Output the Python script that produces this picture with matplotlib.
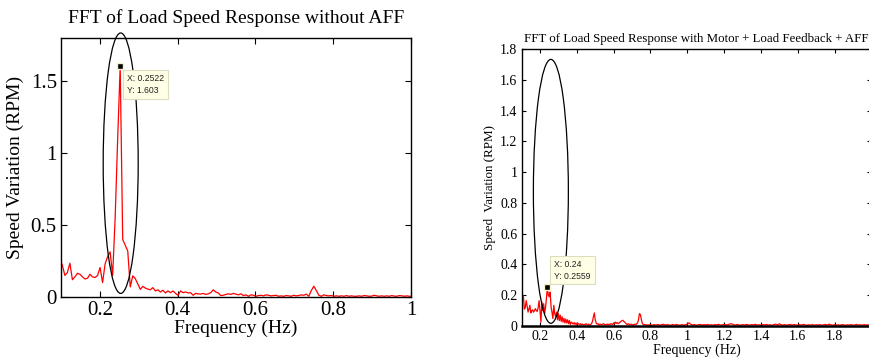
import numpy as np
import matplotlib
matplotlib.use("Agg")
import matplotlib.pyplot as plt
from matplotlib.patches import Ellipse
from matplotlib.ticker import FuncFormatter

# ---------------- data ----------------
# Left: FFT without AFF (bin spacing ~0.006467 Hz)
left_df = 0.2522 / 39
left_k0 = 15
left_vals = [
    0.27, 0.22, 0.15, 0.17, 0.235, 0.12, 0.14, 0.165, 0.158, 0.14,
    0.125, 0.13, 0.158, 0.14, 0.135, 0.15, 0.205, 0.10, 0.23, 0.28,
    0.314, 0.15, 0.55, 1.10, 1.603, 0.40, 0.36, 0.32, 0.07, 0.147,
    0.128, 0.09, 0.053, 0.074, 0.062, 0.055, 0.05, 0.065, 0.042, 0.05,
    0.035, 0.047, 0.028, 0.042, 0.03, 0.042, 0.025, 0.012, 0.042, 0.03,
    0.035, 0.028, 0.03, 0.012, 0.025, 0.022, 0.02, 0.025, 0.018, 0.022,
    0.03, 0.05, 0.035, 0.028, 0.01, 0.012, 0.018, 0.022, 0.018, 0.025,
    0.02, 0.015, 0.022, 0.01, 0.015, 0.005, 0.015, 0.012, 0.005, 0.01,
    0.012, 0.008, 0.015, 0.012, 0.008, 0.01, 0.012, 0.005, 0.008, 0.005,
    0.01, 0.008, 0.005, 0.012, 0.008, 0.01, 0.015, 0.012, 0.02, 0.005,
    0.045, 0.075, 0.045, 0.012, 0.005, 0.015, 0.01, 0.008, 0.01, 0.005,
    0.008, 0.005, 0.008, 0.005, 0.01, 0.005, 0.008, 0.005, 0.005, 0.008,
    0.005, 0.01, 0.008, 0.005, 0.006, 0.012, 0.008, 0.005, 0.008, 0.005,
    0.008, 0.005, 0.01, 0.006, 0.005, 0.01, 0.008, 0.005, 0.008, 0.005,
    0.006,
]
left_tip = (0.2522, 1.603)

# Right: FFT with Motor + Load Feedback + AFF
right_a_start, right_a_df = 0.1, 0.005
right_a_vals = [
    0.20, 0.20, 0.19, 0.11, 0.12, 0.165, 0.13, 0.09, 0.11, 0.135,
    0.085, 0.10, 0.105, 0.09, 0.10, 0.113, 0.10, 0.095, 0.12, 0.165,
    0.10, 0.026, 0.155, 0.10, 0.145, 0.08, 0.12, 0.18, 0.2559, 0.20,
    0.19, 0.22, 0.125, 0.09, 0.048, 0.135, 0.08, 0.06, 0.09, 0.04,
    0.08, 0.035, 0.07, 0.03, 0.06, 0.025, 0.05, 0.02, 0.045, 0.02,
    0.04, 0.015, 0.035, 0.01, 0.025, 0.02, 0.012, 0.022, 0.01, 0.02,
    0.008, 0.018, 0.012, 0.01, 0.015, 0.008, 0.012, 0.006, 0.01, 0.008,
    0.015, 0.01, 0.008, 0.012, 0.006, 0.01, 0.015, 0.03, 0.06, 0.085,
    0.04, 0.02, 0.012, 0.015, 0.008, 0.012, 0.01, 0.008, 0.012, 0.015,
    0.01, 0.008, 0.01, 0.012, 0.008, 0.012, 0.01, 0.015, 0.012, 0.01,
    0.02, 0.015, 0.025, 0.018, 0.022, 0.015, 0.02, 0.025, 0.03, 0.035,
    0.037, 0.03, 0.025, 0.018, 0.012, 0.01, 0.015, 0.01, 0.008, 0.012,
    0.01, 0.006, 0.01, 0.012, 0.008, 0.015, 0.02, 0.04, 0.08, 0.075,
    0.045, 0.02, 0.01, 0.008, 0.01, 0.006, 0.008, 0.005, 0.008, 0.006,
]
right_b_start, right_b_df = 0.80, 0.01
right_b_vals = [
    0.008, 0.005, 0.009, 0.006, 0.01, 0.005, 0.008, 0.011, 0.006, 0.009,
    0.007, 0.005, 0.009, 0.006, 0.01, 0.007, 0.005, 0.009, 0.006, 0.008,
    0.012, 0.02, 0.01, 0.007, 0.009, 0.005, 0.008, 0.01, 0.006, 0.009,
    0.007, 0.01, 0.006, 0.008, 0.005, 0.009, 0.007, 0.011, 0.006, 0.008,
    0.01, 0.007, 0.009, 0.012, 0.015, 0.009, 0.006, 0.01, 0.007, 0.005,
    0.009, 0.006, 0.01, 0.008, 0.005, 0.009, 0.007, 0.011, 0.006, 0.008,
    0.005, 0.009, 0.007, 0.01, 0.006, 0.008, 0.005, 0.009, 0.012, 0.007,
    0.014, 0.008, 0.006, 0.009, 0.005, 0.008, 0.01, 0.006, 0.009, 0.007,
    0.005, 0.009, 0.006, 0.01, 0.007, 0.005, 0.008, 0.006, 0.009, 0.005,
    0.008, 0.006, 0.009, 0.005, 0.007, 0.01, 0.006, 0.012, 0.008, 0.005,
    0.009, 0.006, 0.008, 0.005, 0.009, 0.007, 0.005, 0.008, 0.006, 0.009,
    0.005, 0.007, 0.01, 0.006, 0.008, 0.005, 0.009, 0.006, 0.008, 0.005,
    0.007,
]
right_tip = (0.24, 0.2559)

left_title = "FFT of Load Speed Response without AFF"
right_title = "FFT of Load Speed Response with Motor + Load Feedback + AFF"
xlabel = "Frequency (Hz)"
left_ylabel = "Speed Variation (RPM)"
right_ylabel = "Speed  Variation (RPM)"
left_xticks = [0.2, 0.4, 0.6, 0.8, 1.0]
left_yticks = [0, 0.5, 1.0, 1.5]
right_xticks = [0.2, 0.4, 0.6, 0.8, 1.0, 1.2, 1.4, 1.6, 1.8, 2.0]
right_yticks = [0, 0.2, 0.4, 0.6, 0.8, 1.0, 1.2, 1.4, 1.6, 1.8]

left_freq = (left_k0 + np.arange(len(left_vals))) * left_df
right_freq = np.concatenate([
    right_a_start + right_a_df * np.arange(len(right_a_vals)),
    right_b_start + right_b_df * np.arange(len(right_b_vals)),
])
right_vals = np.array(right_a_vals + right_b_vals)

# ---------------- style ----------------
plt.rcParams['font.family'] = ['Liberation Serif', 'DejaVu Serif']
W, H = 870, 358
fig = plt.figure(figsize=(W / 100, H / 100), dpi=100)

def fmt(v, pos):
    s = f"{v:.1f}"
    return s[:-2] if s.endswith(".0") else s

def px_axes(l, r, t, b):
    return [l / W, 1 - b / H, (r - l) / W, (b - t) / H]

def style(ax, fs, tl):
    ax.tick_params(direction='in', top=True, right=True, length=tl,
                   width=0.8, labelsize=fs, pad=3)
    ax.xaxis.set_major_formatter(FuncFormatter(fmt))
    ax.yaxis.set_major_formatter(FuncFormatter(fmt))
    for s in ax.spines.values():
        s.set_linewidth(1.0)

def datatip(ax, xy, text, off, va, fs):
    ax.plot([xy[0]], [xy[1]], marker='s', ms=4.2, mfc='black',
            mec='#f7f3c8', mew=1.0, zorder=6, clip_on=False)
    ax.annotate(text, xy=xy, xytext=off, textcoords='offset pixels',
                ha='left', va=va, fontsize=fs, family=['Liberation Sans'],
                color='#222222', linespacing=1.35, zorder=7,
                bbox=dict(boxstyle='square,pad=0.45', fc='#ffffe6',
                          ec='#dcdcc0', lw=0.8))

# ---------------- left panel ----------------
ax1 = fig.add_axes(px_axes(61, 411, 38, 297))
ax1.plot(left_freq, left_vals, color='red', lw=0.9)
ax1.set_xlim(0.1, 1.0)
ax1.set_ylim(0, 1.8)
ax1.set_xticks(left_xticks)
ax1.set_yticks(left_yticks)
style(ax1, 15, 4)
ax1.set_title(left_title, fontsize=14, pad=11)
ax1.set_xlabel(xlabel, fontsize=14, labelpad=0)
ax1.set_ylabel(left_ylabel, fontsize=14, labelpad=5)
ax1.add_patch(Ellipse((0.2535, 0.93), 0.09, 1.81, fill=False,
                      ec='black', lw=0.9, clip_on=False, zorder=5))
datatip(ax1, left_tip, "X: 0.2522\nY: 1.603", (7, -8), 'top', 6.2)

# ---------------- right panel ----------------
ax2 = fig.add_axes(px_axes(521.6, 871.4, 49, 326))
ax2.plot(right_freq, right_vals, color='red', lw=0.9)
ax2.set_xlim(0.1, 2.0)
ax2.set_ylim(0, 1.8)
ax2.set_xticks(right_xticks)
ax2.set_yticks(right_yticks)
style(ax2, 10, 3)
ax2.spines['bottom'].set_linewidth(1.8)
ax2.set_title(right_title, fontsize=9.25, pad=5)
ax2.set_xlabel(xlabel, fontsize=10, labelpad=0)
ax2.set_ylabel(right_ylabel, fontsize=9.4, labelpad=3)
ax2.add_patch(Ellipse((0.259, 0.875), 0.19, 1.715, fill=False,
                      ec='black', lw=0.9, clip_on=False, zorder=5))
datatip(ax2, right_tip, "X: 0.24\nY: 0.2559", (7, 6), 'bottom', 6.2)

fig.savefig("out.png", dpi=100)
